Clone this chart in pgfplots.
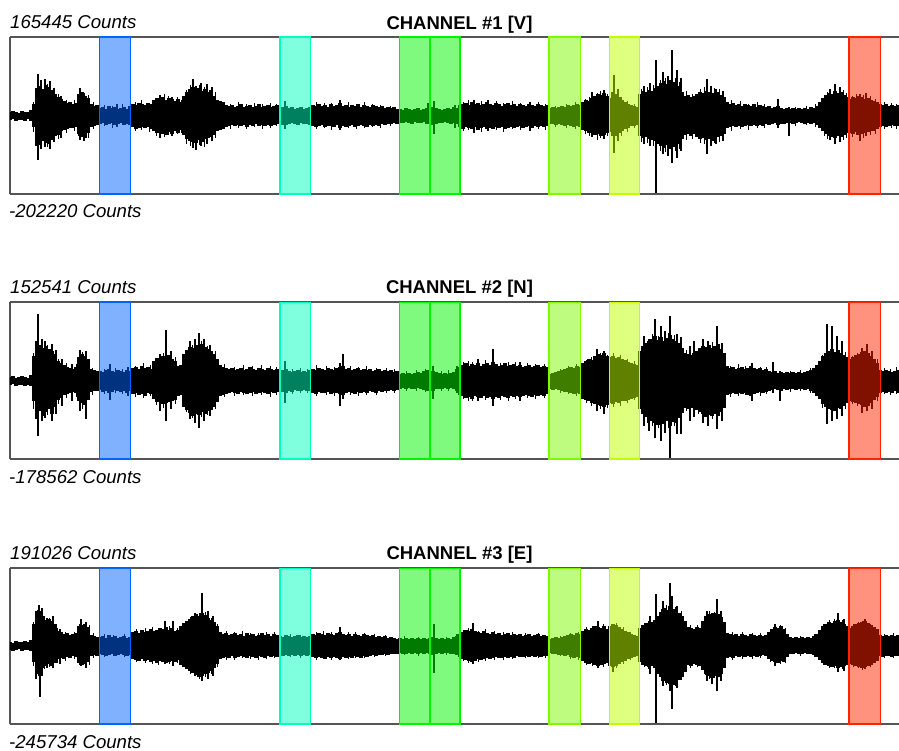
\documentclass[border=0pt]{standalone}
\usepackage{pgfplots}
\pgfplotsset{compat=1.18}
\usepackage{pgfplotstable}
\usepackage{fontspec}
\setmainfont{Liberation Sans}
\definecolor{bBlue}{RGB}{0,100,255}
\definecolor{bCyan}{RGB}{0,255,190}
\definecolor{bGreen}{RGB}{0,245,0}
\definecolor{bLime}{RGB}{125,250,0}
\definecolor{bYellow}{RGB}{192,255,0}
\definecolor{bRed}{RGB}{255,35,0}
\definecolor{frame}{RGB}{85,85,85}

\pgfplotstableread[row sep=\\]{x u l\\
10 4 -4\\13 5 -3\\16 4 -5\\19 3 -4\\22 5 -4\\25 4 -5\\28 4 -3\\31 6 -5\\
34 12 -11\\37 28 -30\\40 30 -29\\43 27 -25\\46 31 -27\\49 29 -28\\52 26 -24\\55 22 -20\\58 19 -19\\61 17 -15\\64 15 -14\\67 13 -13\\70 14 -12\\73 12 -12\\76 13 -11\\79 22 -18\\82 24 -21\\85 20 -22\\88 18 -17\\91 12 -11\\94 10 -10\\97 11 -9\\
100 8 -8\\103 9 -7\\106 7 -9\\109 10 -8\\112 8 -7\\115 9 -9\\118 7 -8\\121 8 -7\\124 9 -9\\127 7 -8\\130 10 -9\\133 12 -11\\136 11 -13\\139 13 -12\\142 12 -11\\145 11 -12\\148 13 -11\\151 12 -13\\154 16 -15\\157 18 -17\\160 17 -16\\163 19 -18\\166 16 -19\\169 18 -16\\172 17 -18\\175 15 -15\\178 17 -17\\181 14 -14\\184 20 -19\\187 24 -23\\190 27 -25\\193 29 -26\\196 26 -27\\199 28 -24\\
202 25 -26\\205 27 -23\\208 24 -22\\211 26 -21\\214 20 -19\\217 16 -15\\220 15 -14\\223 14 -13\\226 11 -11\\229 10 -10\\232 11 -9\\235 9 -10\\238 10 -9\\241 12 -10\\244 9 -9\\247 10 -11\\250 11 -9\\253 9 -10\\256 10 -8\\259 12 -10\\262 9 -9\\265 10 -10\\268 11 -9\\271 9 -10\\274 10 -9\\277 11 -8\\280 8 -8\\283 9 -9\\286 10 -9\\289 8 -8\\292 9 -7\\295 7 -8\\298 8 -9\\
301 9 -7\\304 7 -8\\307 8 -8\\310 9 -9\\313 11 -10\\316 10 -11\\319 12 -10\\322 10 -9\\325 11 -11\\328 9 -10\\331 12 -10\\334 10 -11\\337 11 -9\\340 13 -12\\343 10 -10\\346 11 -11\\349 9 -10\\352 11 -9\\355 10 -11\\358 12 -10\\361 9 -9\\364 11 -10\\367 10 -11\\370 9 -9\\373 11 -10\\376 10 -9\\379 9 -10\\382 10 -8\\385 8 -9\\388 9 -8\\391 8 -8\\394 9 -7\\397 7 -8\\
400 7 -7\\403 6 -7\\406 8 -6\\409 7 -7\\412 6 -8\\415 7 -6\\418 8 -7\\421 6 -7\\424 7 -6\\427 8 -8\\430 7 -7\\433 9 -9\\436 8 -8\\439 7 -7\\442 6 -7\\445 7 -6\\448 8 -7\\451 7 -8\\454 9 -7\\457 8 -8\\460 11 -11\\463 12 -13\\466 13 -11\\469 11 -12\\472 14 -13\\475 12 -11\\478 13 -14\\481 11 -12\\484 12 -11\\487 14 -13\\490 12 -12\\493 11 -13\\496 13 -11\\499 12 -12\\
502 10 -11\\505 12 -13\\508 13 -12\\511 11 -11\\514 12 -12\\517 10 -11\\520 12 -10\\523 11 -12\\526 10 -11\\529 12 -10\\532 11 -12\\535 10 -10\\538 12 -11\\541 11 -10\\544 10 -11\\547 11 -10\\550 8 -8\\553 9 -8\\556 8 -9\\559 9 -8\\562 10 -9\\565 9 -10\\568 11 -9\\571 10 -10\\574 11 -11\\577 12 -10\\580 11 -11\\583 14 -14\\586 16 -15\\589 15 -17\\592 18 -16\\595 20 -19\\598 22 -18\\
601 21 -20\\604 23 -19\\607 20 -17\\610 18 -16\\613 24 -20\\616 22 -20\\619 19 -17\\622 16 -15\\625 14 -13\\628 12 -12\\631 11 -10\\634 10 -10\\637 9 -9\\640 22 -20\\643 25 -22\\646 24 -21\\649 26 -23\\652 25 -24\\655 28 -25\\658 30 -28\\661 33 -30\\664 35 -32\\667 32 -29\\670 36 -33\\673 34 -31\\676 31 -30\\679 30 -28\\682 24 -23\\685 20 -19\\688 21 -18\\691 19 -20\\694 20 -18\\697 22 -21\\
700 24 -23\\703 23 -22\\706 25 -24\\709 24 -23\\712 23 -25\\715 22 -22\\718 24 -21\\721 21 -20\\724 19 -18\\727 14 -12\\730 12 -11\\733 13 -10\\736 11 -11\\739 12 -10\\742 10 -11\\745 12 -10\\748 11 -9\\751 10 -10\\754 12 -9\\757 9 -10\\760 11 -9\\763 10 -10\\766 9 -8\\769 10 -9\\772 8 -8\\775 9 -7\\778 10 -9\\781 8 -8\\784 7 -8\\787 8 -7\\790 7 -7\\793 8 -8\\796 7 -7\\799 8 -6\\
802 7 -7\\805 8 -8\\808 7 -7\\811 9 -8\\814 8 -7\\817 10 -9\\820 14 -12\\823 18 -15\\826 21 -18\\829 23 -20\\832 22 -21\\835 25 -22\\838 23 -20\\841 24 -21\\844 21 -19\\847 19 -17\\850 17 -17\\853 19 -18\\856 18 -16\\859 20 -19\\862 19 -18\\865 17 -17\\868 18 -16\\871 16 -15\\874 15 -15\\877 14 -13\\880 12 -11\\883 11 -10\\886 12 -11\\889 10 -10\\892 11 -9\\895 10 -10\\898 11 -10\\
}\chA

\pgfplotstableread[row sep=\\]{x u l\\
10 4 -4\\13 5 -3\\16 3 -5\\19 4 -4\\22 5 -4\\25 4 -5\\28 3 -4\\31 6 -5\\
34 25 -20\\37 34 -33\\40 36 -30\\43 33 -35\\46 35 -31\\49 32 -28\\52 30 -33\\55 27 -26\\58 20 -19\\61 18 -17\\64 16 -14\\67 14 -13\\70 13 -12\\73 12 -11\\76 14 -12\\79 24 -20\\82 27 -22\\85 25 -24\\88 22 -19\\91 12 -11\\94 11 -10\\97 10 -10\\
100 10 -9\\103 9 -11\\106 11 -10\\109 12 -12\\112 10 -11\\115 9 -9\\118 11 -10\\121 10 -11\\124 9 -10\\127 11 -12\\130 10 -10\\133 13 -13\\136 14 -12\\139 12 -14\\142 15 -13\\145 13 -15\\148 14 -12\\151 12 -13\\154 20 -18\\157 23 -21\\160 22 -20\\163 25 -23\\166 24 -22\\169 26 -21\\172 22 -20\\175 20 -19\\178 15 -15\\181 16 -14\\184 27 -26\\187 31 -29\\190 34 -32\\193 33 -35\\196 36 -33\\199 35 -34\\
202 37 -31\\205 34 -33\\208 32 -30\\211 30 -29\\214 27 -26\\217 22 -21\\220 16 -15\\223 14 -14\\226 13 -13\\229 12 -12\\232 13 -11\\235 11 -12\\238 12 -13\\241 13 -11\\244 11 -12\\247 12 -13\\250 14 -12\\253 12 -11\\256 11 -13\\259 13 -12\\262 12 -11\\265 11 -12\\268 13 -13\\271 12 -11\\274 11 -12\\277 12 -11\\280 10 -10\\283 11 -11\\286 12 -12\\289 10 -10\\292 9 -11\\295 10 -9\\298 11 -10\\
301 9 -10\\304 10 -9\\307 9 -10\\310 11 -10\\313 12 -12\\316 11 -13\\319 13 -11\\322 12 -12\\325 11 -12\\328 13 -11\\331 12 -13\\334 11 -12\\337 13 -12\\340 14 -13\\343 15 -14\\346 12 -12\\349 13 -11\\352 11 -12\\355 12 -13\\358 13 -11\\361 11 -12\\364 12 -11\\367 11 -12\\370 12 -10\\373 10 -11\\376 11 -12\\379 12 -10\\382 10 -11\\385 11 -10\\388 10 -10\\391 11 -9\\394 9 -10\\397 10 -9\\
400 7 -8\\403 8 -7\\406 7 -8\\409 8 -7\\412 7 -8\\415 8 -8\\418 9 -7\\421 8 -8\\424 10 -9\\427 11 -10\\430 9 -9\\433 10 -10\\436 9 -8\\439 8 -8\\442 7 -8\\445 8 -7\\448 7 -8\\451 8 -7\\454 9 -8\\457 12 -10\\460 14 -14\\463 16 -15\\466 18 -17\\469 15 -16\\472 17 -18\\475 16 -15\\478 18 -16\\481 15 -17\\484 17 -15\\487 18 -17\\490 16 -16\\493 19 -18\\496 17 -16\\499 15 -17\\
502 16 -15\\505 18 -16\\508 15 -17\\511 16 -15\\514 17 -16\\517 15 -15\\520 16 -16\\523 14 -15\\526 15 -14\\529 16 -15\\532 14 -16\\535 15 -14\\538 16 -15\\541 14 -14\\544 15 -15\\547 14 -13\\550 7 -8\\553 8 -9\\556 9 -8\\559 10 -9\\562 11 -10\\565 12 -11\\568 13 -11\\571 14 -12\\574 13 -13\\577 15 -12\\580 14 -13\\583 18 -18\\586 20 -19\\589 22 -20\\592 21 -22\\595 25 -23\\598 27 -24\\
601 26 -25\\604 28 -26\\607 25 -24\\610 24 -22\\613 25 -23\\616 23 -21\\619 24 -22\\622 22 -20\\625 21 -20\\628 19 -19\\631 18 -18\\634 17 -17\\637 16 -16\\640 30 -28\\643 35 -33\\646 38 -36\\649 40 -38\\652 42 -40\\655 45 -42\\658 41 -44\\661 44 -41\\664 40 -43\\667 43 -40\\670 46 -45\\673 42 -41\\676 40 -42\\679 38 -37\\682 33 -32\\685 28 -27\\688 27 -28\\691 26 -27\\694 28 -26\\697 30 -29\\
700 33 -31\\703 35 -33\\706 34 -36\\709 36 -34\\712 33 -35\\715 35 -33\\718 37 -35\\721 32 -31\\724 28 -27\\727 15 -14\\730 13 -13\\733 14 -12\\736 12 -13\\739 13 -12\\742 14 -13\\745 12 -12\\748 13 -14\\751 15 -15\\754 13 -13\\757 12 -12\\760 13 -11\\763 11 -12\\766 12 -11\\769 10 -10\\772 9 -9\\775 10 -8\\778 8 -9\\781 9 -10\\784 8 -8\\787 9 -9\\790 8 -8\\793 9 -8\\796 8 -9\\799 9 -8\\
802 8 -8\\805 9 -9\\808 10 -8\\811 11 -10\\814 13 -12\\817 16 -15\\820 20 -18\\823 25 -23\\826 28 -26\\829 30 -28\\832 32 -29\\835 29 -30\\838 31 -27\\841 28 -28\\844 26 -25\\847 24 -22\\850 22 -20\\853 24 -21\\856 26 -22\\859 27 -23\\862 29 -24\\865 30 -26\\868 28 -25\\871 25 -22\\874 22 -19\\877 18 -16\\880 11 -12\\883 10 -11\\886 11 -12\\889 10 -11\\892 9 -12\\895 10 -10\\898 11 -12\\
}\chB

\pgfplotstableread[row sep=\\]{x u l\\
10 4 -4\\13 3 -5\\16 5 -4\\19 4 -3\\22 4 -5\\25 5 -4\\28 4 -4\\31 6 -5\\
34 22 -16\\37 33 -24\\40 35 -25\\43 30 -22\\46 26 -20\\49 27 -18\\52 25 -20\\55 22 -17\\58 15 -13\\61 14 -12\\64 12 -13\\67 13 -11\\70 11 -12\\73 12 -10\\76 13 -11\\79 20 -17\\82 21 -19\\85 22 -18\\88 19 -16\\91 11 -10\\94 10 -9\\97 9 -10\\
100 9 -8\\103 10 -9\\106 8 -10\\109 11 -9\\112 9 -8\\115 10 -10\\118 8 -9\\121 9 -8\\124 10 -9\\127 8 -10\\130 9 -9\\133 14 -13\\136 15 -14\\139 13 -15\\142 16 -13\\145 14 -15\\148 15 -14\\151 17 -16\\154 15 -15\\157 16 -17\\160 18 -15\\163 17 -16\\166 19 -17\\169 16 -16\\172 18 -15\\175 15 -16\\178 16 -14\\181 20 -19\\184 23 -21\\187 25 -23\\190 27 -25\\193 30 -27\\196 32 -29\\199 30 -31\\
202 33 -30\\205 31 -28\\208 28 -27\\211 26 -25\\214 24 -22\\217 20 -18\\220 14 -13\\223 12 -12\\226 13 -11\\229 11 -12\\232 12 -10\\235 13 -12\\238 11 -11\\241 12 -10\\244 10 -11\\247 13 -12\\250 11 -10\\253 12 -11\\256 10 -12\\259 11 -10\\262 13 -11\\265 11 -12\\268 12 -10\\271 10 -11\\274 12 -10\\277 11 -11\\280 10 -9\\283 9 -10\\286 11 -9\\289 10 -10\\292 9 -9\\295 10 -10\\298 11 -9\\
301 9 -10\\304 10 -9\\307 9 -10\\310 10 -9\\313 12 -11\\316 11 -12\\319 13 -11\\322 12 -12\\325 11 -13\\328 13 -11\\331 12 -12\\334 11 -11\\337 13 -12\\340 14 -13\\343 12 -11\\346 11 -12\\349 12 -11\\352 10 -12\\355 12 -10\\358 11 -11\\361 10 -12\\364 12 -10\\367 11 -11\\370 10 -10\\373 11 -9\\376 9 -10\\379 10 -9\\382 9 -9\\385 10 -8\\388 8 -9\\391 9 -8\\394 8 -8\\397 7 -8\\
400 8 -7\\403 7 -8\\406 8 -8\\409 7 -7\\412 8 -8\\415 7 -7\\418 8 -8\\421 7 -7\\424 8 -8\\427 7 -7\\430 8 -8\\433 9 -9\\436 8 -8\\439 7 -7\\442 8 -8\\445 7 -7\\448 8 -7\\451 7 -8\\454 9 -8\\457 10 -9\\460 12 -11\\463 14 -13\\466 16 -14\\469 15 -15\\472 17 -16\\475 15 -15\\478 14 -13\\481 13 -14\\484 15 -13\\487 13 -12\\490 12 -13\\493 14 -12\\496 12 -11\\499 13 -12\\
502 11 -12\\505 12 -11\\508 13 -12\\511 11 -11\\514 12 -12\\517 11 -10\\520 12 -11\\523 10 -11\\526 11 -10\\529 12 -11\\532 10 -10\\535 11 -11\\538 12 -10\\541 10 -11\\544 11 -10\\547 10 -10\\550 7 -7\\553 8 -8\\556 9 -8\\559 8 -9\\562 9 -9\\565 10 -10\\568 11 -9\\571 12 -11\\574 11 -12\\577 13 -11\\580 12 -12\\583 15 -15\\586 17 -17\\589 16 -18\\592 18 -17\\595 20 -19\\598 19 -20\\
601 18 -19\\604 20 -18\\607 17 -17\\610 20 -20\\613 22 -21\\616 21 -20\\619 19 -18\\622 17 -16\\625 15 -15\\628 14 -13\\631 12 -12\\634 11 -11\\637 10 -10\\640 18 -16\\643 21 -19\\646 23 -20\\649 22 -21\\652 24 -20\\655 26 -22\\658 30 -28\\661 34 -31\\664 38 -35\\667 36 -37\\670 40 -38\\673 37 -39\\676 36 -35\\679 33 -34\\682 30 -31\\685 25 -26\\688 19 -19\\691 18 -20\\694 17 -18\\697 19 -19\\
700 18 -20\\703 25 -24\\706 30 -28\\709 32 -30\\712 31 -32\\715 33 -30\\718 32 -31\\721 29 -28\\724 24 -22\\727 13 -12\\730 12 -11\\733 11 -12\\736 12 -10\\739 10 -11\\742 12 -10\\745 11 -11\\748 10 -10\\751 12 -11\\754 11 -10\\757 10 -11\\760 11 -10\\763 10 -9\\766 11 -10\\769 14 -13\\772 17 -15\\775 19 -16\\778 18 -17\\781 20 -15\\784 17 -16\\787 12 -11\\790 9 -8\\793 8 -8\\796 9 -7\\799 8 -8\\
802 9 -8\\805 8 -7\\808 9 -8\\811 8 -8\\814 10 -9\\817 12 -11\\820 16 -14\\823 20 -17\\826 22 -19\\829 24 -20\\832 23 -21\\835 25 -20\\838 26 -22\\841 24 -21\\844 22 -20\\847 20 -19\\850 18 -18\\853 20 -19\\856 22 -20\\859 23 -21\\862 24 -22\\865 25 -21\\868 23 -20\\871 21 -19\\874 19 -17\\877 17 -15\\880 11 -10\\883 10 -11\\886 11 -10\\889 10 -10\\892 11 -11\\895 10 -10\\898 11 -10\\
}\chC

\pgfplotsset{seis/.style={scale only axis, width=890pt, height=157pt,
  xmin=10, xmax=900, ymin=-78.5, ymax=78.5, xtick=\empty, ytick=\empty,
  axis x line*=box, axis y line*=left,
  axis line style={frame, line width=1.4pt, -},
  y axis line style={-}, every outer y axis line/.append style={-},
  anchor=north west}}

\newcommand{\band}[3]{\addplot[fill=#1, fill opacity=0.5, draw=#1, line width=1.3pt, forget plot]
  coordinates {(#2,-78.5)(#3,-78.5)(#3,78.5)(#2,78.5)} -- cycle;}
\newcommand{\bands}{%
  \band{bBlue}{99.3}{130.7}
  \band{bCyan}{280}{310.7}
  \band{bGreen}{399.3}{430}
  \band{bGreen}{430}{460}
  \band{bLime}{549}{580.7}
  \band{bYellow}{609.3}{639.7}
  \band{bRed}{849}{880.3}}
\newcommand{\trace}[1]{%
  \addplot[ycomb, black, line width=3.15pt, mark=none, forget plot] table[x=x,y=u]{#1};
  \addplot[ycomb, black, line width=3.15pt, mark=none, forget plot] table[x=x,y=l]{#1};}
\pgfplotsset{spk/.style={ycomb, black, line width=1.1pt, mark=none, forget plot},
             hair/.style={ycomb, black, line width=1pt, mark=none, forget plot}}

\begin{document}
\begin{tikzpicture}
\useasboundingbox (0,0) rectangle (899pt,-751pt);
\tikzset{cnt/.style={anchor=base west, inner sep=0pt, font=\fontsize{18.6}{20}\selectfont\itshape},
         ttl/.style={anchor=base, inner sep=0pt, font=\fontsize{18.5}{20}\selectfont\bfseries}}

% Channel 1
\begin{axis}[seis, at={(10pt,-37pt)}]
\trace{\chA}
\addplot[spk] coordinates {
(38,-44)(38,42) (41,-33)(41,36) (45,-31)(45,37) (50,-33)(50,35)
(54,-26)(54,28) (61,-22)(61,20) (80,-24)(80,28) (84,-25)(84,23)
(117,-11)(117,12) (160,-22)(160,21) (172,-20)(172,19)
(193,-32)(193,37) (196,-34)(196,30) (201,-30)(201,33) (207,-28)(207,32) (212,-25)(212,29)
(285,-13)(285,15) (340,-14)(340,16) (428,-8)(428,13) (434,-18)(434,15) (455,-12)(455,11)
(474,-17)(474,16) (488,-15)(488,16) (530,-15)(530,14) (592,-21)(592,24) (604,-23)(604,26)
(614,-37)(614,41) (618,-25)(618,27) (644,-28)(644,30) (650,-30)(650,33) (656,-77)(656,55)
(663,-38)(663,43) (668,-40)(668,40) (672,-47)(672,65) (677,-42)(677,45) (681,-35)(681,38)
(707,-38)(707,37) (711,-30)(711,30) (716,-28)(716,27) (723,-25)(723,25)
(778,-12)(778,17) (789,-20)(789,9) (830,-24)(830,27) (835,-28)(835,32) (840,-26)(840,29)
(860,-25)(860,22) (866,-20)(866,23)};
\addplot[hair] coordinates {
(34,-16)(34,14) (48,-31)(48,32) (58,-23)(58,22) (66,-17)(66,16) (74,-15)(74,16) (78,-20)(78,22) (88,-22)(88,21) (93,-13)(93,14)
(104,-10)(104,11) (112,-12)(112,10) (122,-9)(122,12) (135,-15)(135,14) (141,-14)(141,16) (149,-16)(149,13)
(156,-20)(156,18) (164,-21)(164,22) (168,-19)(168,20) (177,-18)(177,19) (181,-17)(181,16)
(186,-28)(186,26) (190,-30)(190,31) (199,-29)(199,31) (204,-31)(204,29) (215,-22)(215,24)
(230,-13)(230,12) (238,-12)(238,14) (246,-13)(246,12) (254,-11)(254,13) (262,-13)(262,12) (270,-12)(270,13) (276,-10)(276,12)
(316,-13)(316,14) (324,-12)(324,13) (331,-14)(331,13) (348,-12)(348,14) (356,-13)(356,12) (364,-12)(364,14) (372,-11)(372,12) (380,-12)(380,11) (390,-10)(390,10)
(463,-15)(463,14) (468,-14)(468,16) (481,-16)(481,15) (496,-14)(496,15) (503,-16)(503,13) (512,-13)(512,15) (520,-14)(520,13) (538,-13)(538,14) (545,-14)(545,12)
(555,-11)(555,10) (566,-12)(566,12) (575,-13)(575,14) (585,-18)(585,17) (589,-20)(589,19) (597,-24)(597,23) (600,-22)(600,25) (607,-20)(607,22)
(621,-20)(621,19) (627,-16)(627,15) (634,-12)(634,12) (641,-26)(641,27) (647,-27)(647,29) (653,-30)(653,31)
(660,-35)(660,36) (665,-36)(665,38) (675,-35)(675,38) (679,-33)(679,34) (686,-24)(686,25) (692,-23)(692,22)
(700,-27)(700,27) (704,-28)(704,29) (714,-27)(714,28) (719,-26)(719,27)
(731,-15)(731,16) (740,-13)(740,15) (748,-14)(748,12) (757,-12)(757,14) (764,-12)(764,12)
(795,-10)(795,9) (806,-9)(806,10) (815,-11)(815,12) (824,-20)(824,21) (827,-23)(827,24) (843,-24)(843,26) (846,-22)(846,23)
(852,-21)(852,20) (856,-19)(856,22) (863,-22)(863,21) (870,-19)(870,20) (875,-18)(875,17) (884,-13)(884,14) (891,-12)(891,13) (896,-13)(896,12)};
\bands
\end{axis}
\node[cnt] at (10pt,-29pt) {165445 Counts};
\node[cnt] at (9pt,-218pt) {-202220 Counts};
\node[ttl] at (459.5pt,-29.5pt) {CHANNEL \#1 [V]};

% Channel 2
\begin{axis}[seis, at={(10pt,-302pt)}]
\trace{\chB}
\addplot[spk] coordinates {
(38,-55)(38,67) (36,-38)(36,40) (42,-40)(42,42) (45,-37)(45,40) (52,-40)(52,37)
(56,-33)(56,31) (62,-25)(62,22) (72,-20)(72,17) (80,-30)(80,31) (86,-38)(86,30)
(110,-19)(110,17) (128,-15)(128,14) (160,-30)(160,27) (166,-40)(166,51) (171,-28)(171,30)
(190,-38)(190,40) (195,-42)(195,42) (199,-47)(199,48) (204,-40)(204,42) (210,-35)(210,36)
(285,-22)(285,20) (340,-25)(340,18) (343,-18)(343,27) (433,-18)(433,15) (457,-12)(457,15)
(478,-20)(478,22) (493,-25)(493,32) (520,-20)(520,19) (597,-30)(597,32) (604,-33)(604,30)
(644,-45)(644,45) (649,-50)(649,42) (655,-57)(655,62) (661,-60)(661,55) (665,-52)(665,50)
(670,-77)(670,65) (677,-53)(677,47) (681,-53)(681,44) (690,-40)(690,35) (694,-36)(694,40)
(703,-42)(703,42) (708,-45)(708,40) (717,-48)(717,55) (722,-40)(722,38) (752,-20)(752,18)
(773,-12)(773,19) (780,-20)(780,10) (827,-43)(827,57) (832,-40)(832,55) (837,-38)(837,45)
(842,-35)(842,40) (862,-32)(862,33) (867,-30)(867,37) (872,-28)(872,30)};
\addplot[hair] coordinates {
(34,-28)(34,28) (48,-34)(48,36) (58,-23)(58,22) (66,-17)(66,18) (76,-16)(76,17) (82,-28)(82,29) (92,-14)(92,13)
(104,-13)(104,12) (115,-12)(115,13) (122,-13)(122,12) (135,-16)(135,15) (143,-17)(143,18) (150,-15)(150,16)
(156,-24)(156,23) (163,-27)(163,28) (175,-23)(175,24) (186,-31)(186,30) (192,-37)(192,36) (201,-36)(201,40) (207,-34)(207,35) (215,-28)(215,30)
(224,-16)(224,17) (234,-15)(234,14) (243,-14)(243,16) (252,-15)(252,15) (261,-14)(261,16) (270,-16)(270,15) (276,-14)(276,14)
(292,-13)(292,12) (300,-12)(300,13) (307,-12)(307,12)
(316,-15)(316,16) (326,-14)(326,15) (334,-15)(334,14) (350,-14)(350,15) (358,-15)(358,14) (366,-14)(366,15) (376,-14)(376,13) (386,-12)(386,13) (394,-12)(394,12)
(406,-10)(406,10) (416,-10)(416,11) (425,-11)(425,12) (441,-10)(441,10) (448,-10)(448,11)
(463,-18)(463,19) (468,-20)(468,20) (472,-20)(472,19) (485,-19)(485,21) (500,-19)(500,18) (508,-20)(508,19) (515,-18)(515,19) (527,-17)(527,18) (535,-18)(535,17) (544,-17)(544,17)
(560,-12)(560,12) (568,-13)(568,15) (576,-15)(576,17) (586,-22)(586,21) (591,-25)(591,24) (600,-28)(600,28) (607,-27)(607,26)
(613,-26)(613,28) (620,-25)(620,26) (627,-22)(627,22) (634,-19)(634,20)
(647,-42)(647,40) (652,-45)(652,47) (658,-47)(658,45) (668,-47)(668,48) (674,-45)(674,46)
(686,-30)(686,31) (698,-33)(698,32) (712,-38)(712,39)
(730,-16)(730,15) (738,-15)(738,17) (745,-14)(745,15) (760,-15)(760,14) (766,-13)(766,14)
(790,-11)(790,10) (800,-10)(800,11) (810,-12)(810,13) (822,-27)(822,26) (845,-28)(845,29)
(852,-23)(852,25) (857,-25)(857,28) (877,-20)(877,22) (884,-13)(884,13) (890,-14)(890,12) (896,-13)(896,14)};
\bands
\end{axis}
\node[cnt] at (10pt,-293.5pt) {152541 Counts};
\node[cnt] at (9pt,-483pt) {-178562 Counts};
\node[ttl] at (459.5pt,-293.5pt) {CHANNEL \#2 [N]};

% Channel 3
\begin{axis}[seis, at={(10pt,-568pt)}, height=156pt]
\trace{\chC}
\addplot[spk] coordinates {
(36,-33)(36,35) (39,-30)(39,41) (40,-51)(40,30) (42,-30)(42,38) (47,-22)(47,28)
(53,-22)(53,30) (60,-18)(60,17) (81,-20)(81,27) (86,-22)(86,24) (165,-18)(165,25)
(173,-20)(173,25) (195,-30)(195,33) (202,-35)(202,53) (208,-33)(208,35) (213,-30)(213,30)
(340,-14)(340,19) (434,-27)(434,22) (457,-9)(457,12) (473,-18)(473,23) (598,-22)(598,25)
(613,-26)(613,22) (650,-28)(650,30) (656,-77)(656,52) (663,-40)(663,45) (670,-45)(670,63)
(672,-63)(672,50) (677,-42)(677,40) (707,-35)(707,35) (712,-38)(712,33) (717,-45)(717,47)
(721,-35)(721,35) (775,-20)(775,22) (838,-26)(838,33) (844,-25)(844,27) (865,-23)(865,27)};
\addplot[hair] coordinates {
(34,-20)(34,24) (38,-28)(38,36) (45,-23)(45,30) (50,-21)(50,28) (57,-17)(57,18) (65,-15)(65,14) (74,-13)(74,14) (79,-19)(79,22) (89,-19)(89,21) (93,-12)(93,13)
(104,-11)(104,12) (113,-10)(113,11) (124,-11)(124,12)
(136,-16)(136,17) (145,-17)(145,18) (152,-18)(152,19) (158,-19)(158,18) (169,-18)(169,20) (177,-17)(177,18)
(185,-23)(185,25) (190,-28)(190,29) (199,-33)(199,33) (205,-31)(205,34) (211,-28)(211,28) (217,-21)(217,22)
(226,-14)(226,15) (234,-14)(234,14) (242,-12)(242,15) (250,-13)(250,13) (258,-14)(258,13) (266,-13)(266,14) (274,-12)(274,14)
(290,-11)(290,12) (300,-12)(300,11)
(316,-14)(316,14) (323,-13)(323,15) (331,-14)(331,14) (348,-13)(348,14) (355,-12)(355,14) (364,-12)(364,13) (374,-11)(374,12) (385,-10)(385,11)
(404,-9)(404,10) (418,-10)(418,9) (446,-9)(446,9)
(463,-15)(463,16) (468,-17)(468,18) (478,-16)(478,15) (485,-15)(485,17) (494,-14)(494,15) (503,-14)(503,14) (512,-13)(512,14) (525,-12)(525,13) (538,-12)(538,13) (545,-12)(545,11)
(560,-10)(560,10) (570,-13)(570,13) (578,-14)(578,14) (586,-19)(586,19) (592,-20)(592,20) (603,-21)(603,22)
(616,-22)(616,23) (623,-18)(623,19) (630,-14)(630,14)
(644,-21)(644,22) (648,-23)(648,25) (661,-35)(661,37) (666,-39)(666,41) (675,-40)(675,39) (681,-34)(681,35)
(690,-22)(690,21) (697,-21)(697,21) (705,-29)(705,28) (709,-33)(709,35) (714,-32)(714,34)
(732,-14)(732,14) (742,-13)(742,14) (752,-13)(752,13) (760,-12)(760,13)
(770,-16)(770,16) (780,-18)(780,21) (785,-17)(785,18) (800,-10)(800,10) (814,-11)(814,12)
(823,-19)(823,22) (829,-22)(829,26) (834,-22)(834,27) (842,-23)(842,26)
(853,-21)(853,22) (858,-22)(858,24) (862,-24)(862,25) (870,-21)(870,22) (884,-12)(884,12) (893,-12)(893,13)};
\bands
\end{axis}
\node[cnt] at (10pt,-559pt) {191026 Counts};
\node[cnt] at (9pt,-748pt) {-245734 Counts};
\node[ttl] at (459.5pt,-559pt) {CHANNEL \#3 [E]};
\end{tikzpicture}
\end{document}
